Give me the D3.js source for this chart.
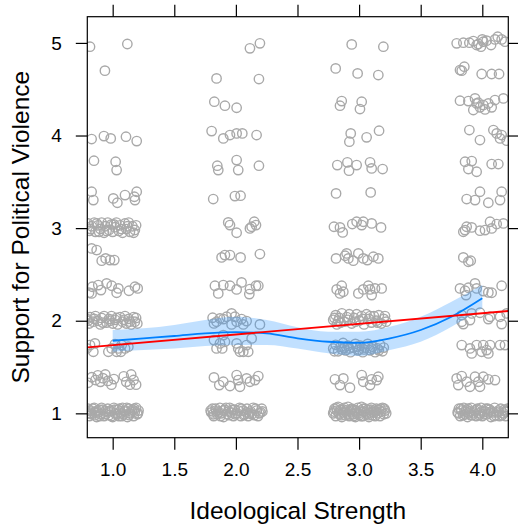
<!DOCTYPE html>
<html>
<head>
<meta charset="utf-8">
<script src="https://cdn.jsdelivr.net/npm/d3@7"></script>
<style>
  html, body { margin: 0; padding: 0; background: #fff; }
  svg { display: block; font-family: "Liberation Sans", Arial, Helvetica, sans-serif; }
</style>
</head>
<body>
<svg id="chart" width="518" height="531"></svg>
<script>
// Jittered responses, one array per ideological-strength group: [strength, support]
const group1 = [
  [0.816,4.959],[1.119,4.988],[0.937,4.700],
  [0.829,3.962],[0.929,3.994],[0.984,3.969],[1.108,3.987],[1.195,3.940],
  [0.848,3.728],[1.024,3.717],[1.032,3.627],
  [0.829,3.393],[0.843,3.303],[1.005,3.321],[1.038,3.274],[1.100,3.357],[1.176,3.339],[1.195,3.393],[1.181,3.303],
  [0.80,3.05],[0.81,2.97],[0.83,3.02],[0.85,3.06],[0.86,2.96],[0.88,3.03],[0.90,2.99],[0.91,3.06],[0.93,2.95],
  [0.94,3.02],[0.96,3.06],[0.97,2.98],[0.99,3.04],[1.00,2.96],[1.02,3.01],[1.03,3.06],[1.05,2.97],[1.06,3.03],
  [1.08,2.95],[1.10,3.05],[1.11,2.99],[1.13,3.06],[1.14,2.96],[1.16,3.02],[1.17,2.95],[1.19,3.03],
  [0.82,2.99],[0.87,3.05],[0.95,2.97],[1.01,3.04],[1.07,2.99],[1.12,3.02],[1.18,2.98],[0.89,2.96],
  [0.829,2.781],[0.870,2.763],[0.911,2.648],[0.943,2.673],[0.978,2.655],[1.013,2.655],
  [0.808,2.302],[0.835,2.367],[0.883,2.385],[0.905,2.331],[0.951,2.403],[0.992,2.378],[1.032,2.302],
  [1.046,2.349],[1.132,2.324],[1.181,2.367],[1.203,2.349],[0.829,2.295],
  [0.79,2.02],[0.81,1.97],[0.82,2.04],[0.84,1.99],[0.86,2.05],[0.88,2.00],[0.90,1.96],[0.91,2.03],[0.93,2.05],
  [0.95,1.98],[0.97,2.02],[0.99,2.05],[1.00,1.97],[1.02,2.01],[1.04,1.96],[1.06,2.04],[1.08,1.99],[1.10,2.05],
  [1.11,1.97],[1.13,2.02],[1.15,1.96],[1.17,2.04],[1.18,1.99],[1.20,1.97],
  [0.80,2.00],[0.85,2.02],[0.92,1.98],[0.98,2.00],[1.03,2.03],[1.09,2.01],[1.14,1.99],[1.19,2.03],
  [0.789,1.701],[0.816,1.737],[0.856,1.755],[0.843,1.665],[0.965,1.665],[0.992,1.701],[1.019,1.748],
  [1.032,1.665],[1.046,1.701],[1.073,1.737],[1.100,1.701],[1.127,1.719],[1.067,1.665],
  [0.80,1.33],[0.83,1.39],[0.86,1.36],[0.88,1.41],[0.90,1.34],[0.92,1.38],[0.94,1.42],[0.96,1.35],
  [0.99,1.31],[1.01,1.37],[1.09,1.40],[1.11,1.34],[1.14,1.31],[1.15,1.42],[1.17,1.36],[1.19,1.31],
  [0.79,1.00],[0.80,1.05],[0.81,0.97],[0.82,1.03],[0.83,0.99],[0.85,1.06],[0.86,1.01],[0.87,0.96],[0.89,1.04],
  [0.90,0.99],[0.91,1.06],[0.93,0.97],[0.94,1.02],[0.96,1.05],[0.97,0.98],[0.98,1.03],[1.00,0.96],[1.01,1.06],
  [1.02,1.00],[1.04,1.04],[1.05,0.97],[1.06,1.02],[1.08,1.06],[1.09,0.99],[1.10,1.03],[1.12,0.96],[1.13,1.05],
  [1.14,1.00],[1.16,1.04],[1.17,0.97],[1.18,1.02],[1.19,1.06],[1.20,0.99],[1.21,1.03],[0.88,1.01],[1.07,1.00],
  [0.795,1.03],[0.815,1.00],[0.84,1.05],[0.855,0.98],[0.875,1.03],[0.895,0.97],[0.92,1.04],[0.945,0.99],
  [0.965,1.02],[0.99,0.97],[1.015,1.04],[1.035,0.99],[1.055,1.05],[1.075,0.97],[1.095,1.02],[1.115,1.06],
  [1.135,0.98],[1.155,1.02],[1.175,1.05],[1.205,1.00]
];

const group2 = [
  [2.114,4.941],[2.195,4.995],[1.843,4.617],[2.187,4.610],
  [1.825,4.365],[1.911,4.322],[2.006,4.300],
  [1.803,4.048],[1.898,3.969],[1.952,4.005],[2.006,4.023],[2.052,4.023],[2.168,4.005],
  [1.849,3.674],[1.857,3.627],[2.006,3.735],[2.019,3.627],[2.187,3.674],
  [1.816,3.314],[1.992,3.346],[2.038,3.350],
  [1.938,3.062],[1.952,3.033],[2.006,2.950],[2.128,3.015],[2.149,3.069],[2.163,3.033],[2.114,2.997],
  [1.884,2.684],[1.911,2.709],[1.952,2.709],[2.038,2.684],[2.195,2.720],
  [1.830,2.378],[1.857,2.295],[1.898,2.385],[1.952,2.378],[2.006,2.338],[2.046,2.414],[2.109,2.288],
  [2.114,2.342],[2.163,2.378],[2.182,2.378],
  [1.811,2.032],[1.822,1.971],[1.843,1.989],[1.871,2.025],[1.898,2.018],[1.925,2.043],[1.965,2.079],
  [1.965,1.960],[2.006,1.989],[2.046,2.018],[2.060,1.960],[2.087,1.996],[2.195,1.960],[1.992,2.043],
  [1.822,1.791],[1.843,1.701],[1.871,1.755],[1.889,1.701],[1.898,1.845],[1.911,1.773],[2.006,1.755],
  [2.033,1.665],[2.060,1.665],[2.087,1.737],[2.128,1.809],[2.100,1.665],[2.019,1.701],
  [1.822,1.388],[1.865,1.305],[1.898,1.341],[1.952,1.295],[2.006,1.413],[2.019,1.359],[2.033,1.287],
  [2.087,1.377],[2.114,1.341],[2.182,1.402],[2.155,1.359],
  [1.80,1.01],[1.81,1.05],[1.82,0.97],[1.84,1.03],[1.85,0.99],[1.87,1.06],[1.88,1.00],[1.90,0.96],[1.91,1.04],
  [1.93,0.99],[1.95,1.06],[1.96,1.01],[1.98,0.97],[1.99,1.04],[2.01,1.00],[2.03,1.06],[2.04,0.97],[2.06,1.03],
  [2.07,0.99],[2.09,1.05],[2.10,0.97],[2.12,1.02],[2.14,1.06],[2.15,0.98],[2.17,1.03],[2.18,0.97],[2.20,1.01],
  [2.21,1.05],[1.94,1.02],[2.11,1.00],
  [1.795,1.03],[1.815,0.99],[1.835,1.05],[1.855,1.01],[1.875,0.97],[1.895,1.03],[1.92,1.06],[1.945,0.98],
  [1.97,1.04],[1.995,0.99],[2.02,1.03],[2.045,1.05],[2.065,0.98],[2.085,1.01],[2.13,0.99],[2.16,1.05],
  [2.19,1.00],[2.215,1.02]
];

const group3 = [
  [2.940,4.984],[3.197,4.959],[2.810,4.725],[2.988,4.671],[3.156,4.653],
  [2.859,4.372],[2.845,4.322],[3.021,4.365],[3.007,4.286],
  [2.932,4.023],[2.921,3.933],[3.061,3.980],[3.162,4.052],
  [2.823,3.681],[2.905,3.710],[2.918,3.620],[2.980,3.681],[3.089,3.710],[3.102,3.645],[3.191,3.638],
  [2.813,3.375],[3.094,3.386],
  [2.796,3.015],[2.867,2.954],[2.945,3.044],[2.980,3.069],[3.021,3.033],[3.034,3.069],[3.102,3.051],
  [3.178,3.008],[2.845,3.008],
  [2.813,2.673],[2.886,2.702],[2.913,2.673],[2.953,2.648],[2.994,2.727],[3.034,2.673],[3.067,2.655],
  [3.116,2.691],[3.156,2.673],[2.899,2.727],
  [2.818,2.338],[2.845,2.295],[2.859,2.378],[2.872,2.313],[2.994,2.295],[3.034,2.338],[3.089,2.338],
  [3.102,2.277],[3.129,2.349],[3.183,2.349],[3.075,2.378],
  [2.79,2.01],[2.81,2.06],[2.82,1.96],[2.84,2.03],[2.86,2.08],[2.88,1.99],[2.90,2.04],[2.92,2.07],[2.94,1.97],
  [2.96,2.03],[2.98,2.07],[3.00,2.00],[3.02,2.05],[3.04,1.96],[3.06,2.07],[3.08,2.02],[3.10,1.98],[3.12,2.05],
  [3.14,2.00],[3.16,2.06],[3.18,1.97],[3.20,2.02],[3.22,1.99],[2.83,2.00],
  [2.80,2.03],[2.85,1.98],[2.91,2.01],[2.97,1.99],[3.03,2.02],[3.09,2.05],[3.15,1.98],[3.21,2.05],
  [2.79,1.70],[2.81,1.74],[2.83,1.67],[2.85,1.72],[2.87,1.76],[2.89,1.68],[2.91,1.73],[2.93,1.66],[2.95,1.71],
  [2.97,1.75],[2.99,1.68],[3.01,1.73],[3.03,1.66],[3.05,1.71],[3.07,1.75],[3.09,1.68],[3.11,1.72],[3.13,1.66],
  [3.15,1.70],[3.17,1.74],[3.19,1.67],[2.88,1.71],[3.00,1.69],
  [2.80,1.67],[2.86,1.69],[2.92,1.70],[2.98,1.72],[3.04,1.69],[3.10,1.70],[3.16,1.68],[3.20,1.71],
  [2.804,1.367],[2.845,1.305],[2.872,1.377],[2.926,1.277],[3.021,1.413],[3.034,1.341],[3.089,1.305],
  [3.102,1.367],[3.156,1.395],[3.143,1.359],
  [2.79,1.00],[2.80,1.05],[2.81,0.97],[2.82,1.03],[2.83,1.07],[2.84,0.99],[2.85,1.04],[2.86,0.96],[2.87,1.01],
  [2.88,1.06],[2.89,0.98],[2.90,1.03],[2.91,1.07],[2.92,0.97],[2.93,1.02],[2.94,1.05],[2.95,0.99],[2.96,1.04],
  [2.97,0.96],[2.98,1.01],[2.99,1.06],[3.00,0.98],[3.01,1.03],[3.02,1.07],[3.03,0.97],[3.04,1.02],[3.05,1.05],
  [3.06,0.99],[3.07,1.04],[3.08,0.96],[3.09,1.01],[3.10,1.06],[3.11,0.98],[3.12,1.03],[3.13,0.97],[3.14,1.05],
  [3.15,1.00],[3.16,1.04],[3.17,0.97],[3.18,1.02],[3.19,1.06],[3.20,0.99],[3.21,1.03],[3.22,1.00],
  [2.795,1.02],[2.815,1.06],[2.835,1.01],[2.855,0.98],[2.875,1.04],[2.895,1.01],[2.915,0.99],[2.935,1.04],
  [2.955,0.97],[2.975,1.03],[2.995,1.00],[3.015,0.97],[3.035,1.05],[3.055,1.01],[3.075,0.98],[3.095,1.04],
  [3.115,1.01],[3.135,1.02],[3.175,1.05],[3.205,1.05]
];

const group4 = [
  [3.792,4.995],[3.846,5.002],[3.895,5.002],[3.927,5.020],[3.968,4.988],[3.989,4.959],[4.008,5.013],
  [4.035,5.024],[4.071,4.977],[4.103,5.038],[4.125,5.067],[4.157,5.038],[4.184,5.013],[4.000,5.038],[3.954,4.977],
  [3.819,4.707],[3.854,4.743],[3.995,4.664],[4.076,4.664],[4.136,4.664],[3.833,4.700],
  [3.819,4.376],[3.887,4.372],[3.941,4.401],[3.968,4.354],[3.981,4.304],[4.008,4.329],[4.049,4.347],
  [4.076,4.304],[4.103,4.383],[4.171,4.401],[3.927,4.275],[4.022,4.282],[3.954,4.347],
  [3.895,4.059],[3.981,3.951],[4.090,4.059],[4.117,4.023],[4.144,3.969],[4.157,4.005],[4.198,3.944],
  [3.860,3.717],[3.914,3.724],[3.887,3.638],[3.954,3.609],[4.076,3.692],[4.130,3.692],
  [3.873,3.314],[3.981,3.393],[3.941,3.303],[4.049,3.274],[4.157,3.393],[4.144,3.303],
  [3.846,2.961],[3.873,3.015],[3.914,3.008],[3.981,2.972],[4.022,2.979],[4.063,3.069],[4.076,2.997],
  [4.117,3.044],[4.171,3.051],[3.860,2.979],
  [3.846,2.684],[3.887,2.637],[3.906,2.648],
  [3.819,2.349],[3.860,2.324],[3.887,2.356],[3.941,2.403],[3.954,2.349],[4.008,2.320],[4.049,2.306],
  [4.076,2.302],[4.157,2.378],[3.868,2.277],
  [3.833,2.061],[3.846,1.964],[3.900,2.007],[3.981,2.086],[4.049,2.018],[4.063,2.043],[4.144,2.043],
  [4.157,1.964],[4.198,2.079],[3.914,2.079],[3.833,1.989],
  [3.833,1.737],[3.914,1.647],[3.954,1.737],[4.008,1.737],[4.035,1.683],[4.063,1.737],[4.049,1.647],
  [4.144,1.737],[4.184,1.737],[3.995,1.665],[3.900,1.701],
  [3.792,1.377],[3.805,1.305],[3.833,1.402],[3.900,1.287],[3.941,1.395],[3.968,1.341],[3.981,1.287],
  [4.008,1.395],[4.049,1.367],[4.103,1.359],[3.873,1.341],
  [3.80,1.01],[3.81,1.05],[3.82,0.97],[3.83,1.03],[3.85,1.06],[3.86,0.99],[3.87,1.04],[3.88,0.96],[3.90,1.02],
  [3.91,1.06],[3.92,0.98],[3.94,1.03],[3.95,0.97],[3.96,1.05],[3.98,1.00],[3.99,1.06],[4.00,0.97],[4.02,1.02],
  [4.03,1.05],[4.04,0.99],[4.06,1.04],[4.07,0.96],[4.09,1.01],[4.10,1.06],[4.11,0.98],[4.13,1.03],[4.14,0.97],
  [4.15,1.05],[4.17,1.00],[4.18,1.04],[4.19,0.97],[4.20,1.02],[3.89,1.00],[4.05,1.01],
  [3.805,1.00],[3.825,1.05],[3.845,0.98],[3.865,1.02],[3.885,1.05],[3.905,0.98],[3.93,1.01],[3.955,1.04],
  [3.975,0.98],[3.995,1.02],[4.015,0.99],[4.045,1.05],[4.075,1.02],[4.095,0.97],[4.12,1.01],[4.16,0.98],
  [4.185,1.02],[4.205,1.05]
];

// Loess smoother and its confidence band
const smoothX  = [1, 1.25, 1.5, 1.75, 2, 2.25, 2.5, 2.75, 3, 3.25, 3.5, 3.75, 4];
const smoothY  = [1.784, 1.810, 1.835, 1.864, 1.878, 1.864, 1.810, 1.773, 1.762, 1.810, 1.900, 2.043, 2.242];
const smoothLo = [1.665, 1.684, 1.700, 1.727, 1.738, 1.738, 1.700, 1.648, 1.619, 1.684, 1.773, 1.935, 2.134];
const smoothHi = [1.900, 1.918, 1.954, 2.008, 2.043, 2.008, 1.929, 1.881, 1.881, 1.935, 2.043, 2.205, 2.386];

// Linear fit
const lmIntercept = 1.622;
const lmSlope = 0.1147;

// Axis ticks and titles
const xTicks = [1.0, 1.5, 2.0, 2.5, 3.0, 3.5, 4.0];
const yTicks = [1, 2, 3, 4, 5];
const xTitle = "Ideological Strength";
const yTitle = "Support for Political Violence";

const svg = d3.select("#chart");
const panel = { left: 87.3, right: 508.3, top: 16.7, bottom: 437.7 };

const x = d3.scaleLinear().domain([0.794, 4.211]).range([panel.left, panel.right]);
const y = d3.scaleLinear().domain([0.737, 5.283]).range([panel.bottom, panel.top]);

svg.append("defs").append("clipPath").attr("id", "plotClip")
  .append("rect").attr("x", panel.left).attr("y", panel.top)
  .attr("width", panel.right - panel.left).attr("height", panel.bottom - panel.top);

const plot = svg.append("g").attr("clip-path", "url(#plotClip)");

const allPoints = [].concat(group1, group2, group3, group4);
plot.append("g").selectAll("circle").data(allPoints).join("circle")
  .attr("cx", d => x(d[0]))
  .attr("cy", d => y(d[1]))
  .attr("r", 4.7)
  .attr("fill", "none")
  .attr("stroke", "#a9a9a9")
  .attr("stroke-width", 1.4);

const band = smoothX.map((v, i) => ({ x: v, lo: smoothLo[i], hi: smoothHi[i], y: smoothY[i] }));

plot.append("path").datum(band)
  .attr("d", d3.area().x(d => x(d.x)).y0(d => y(d.lo)).y1(d => y(d.hi)).curve(d3.curveMonotoneX))
  .attr("fill", "#3399ff")
  .attr("fill-opacity", 0.3);

plot.append("path").datum(band)
  .attr("d", d3.line().x(d => x(d.x)).y(d => y(d.y)).curve(d3.curveMonotoneX))
  .attr("fill", "none")
  .attr("stroke", "#0080ff")
  .attr("stroke-width", 1.8);

const [x0, x1] = x.domain();
plot.append("line")
  .attr("x1", x(x0)).attr("y1", y(lmIntercept + lmSlope * x0))
  .attr("x2", x(x1)).attr("y2", y(lmIntercept + lmSlope * x1))
  .attr("stroke", "#ff0000")
  .attr("stroke-width", 1.8);

// Frame
svg.append("rect")
  .attr("x", panel.left).attr("y", panel.top)
  .attr("width", panel.right - panel.left).attr("height", panel.bottom - panel.top)
  .attr("fill", "none").attr("stroke", "#000").attr("stroke-width", 1.2);

function styleAxis(g) {
  g.select(".domain").remove();
  g.selectAll(".tick line").attr("stroke", "#000").attr("stroke-width", 1.2);
  g.selectAll(".tick text").attr("fill", "#000").style("font-size", "19px")
    .style("font-family", '"Liberation Sans", Arial, Helvetica, sans-serif');
}

svg.append("g").attr("transform", `translate(0,${panel.bottom})`)
  .call(d3.axisBottom(x).tickValues(xTicks).tickFormat(d3.format(".1f")).tickSize(12).tickPadding(13))
  .call(styleAxis);

svg.append("g").attr("transform", `translate(0,${panel.top})`)
  .call(d3.axisTop(x).tickValues(xTicks).tickFormat("").tickSize(12))
  .call(styleAxis);

svg.append("g").attr("transform", `translate(${panel.left},0)`)
  .call(d3.axisLeft(y).tickValues(yTicks).tickFormat(d3.format("d")).tickSize(11.5).tickPadding(14))
  .call(styleAxis);

svg.append("g").attr("transform", `translate(${panel.right},0)`)
  .call(d3.axisRight(y).tickValues(yTicks).tickFormat("").tickSize(11.5))
  .call(styleAxis);

svg.append("text")
  .attr("x", (panel.left + panel.right) / 2).attr("y", 519.3)
  .attr("text-anchor", "middle")
  .style("font-size", "24.5px")
  .attr("fill", "#000")
  .text(xTitle);

svg.append("text")
  .attr("transform", `translate(28.5,${(panel.top + panel.bottom) / 2}) rotate(-90)`)
  .attr("text-anchor", "middle")
  .style("font-size", "24.5px")
  .attr("fill", "#000")
  .text(yTitle);
</script>
</body>
</html>
